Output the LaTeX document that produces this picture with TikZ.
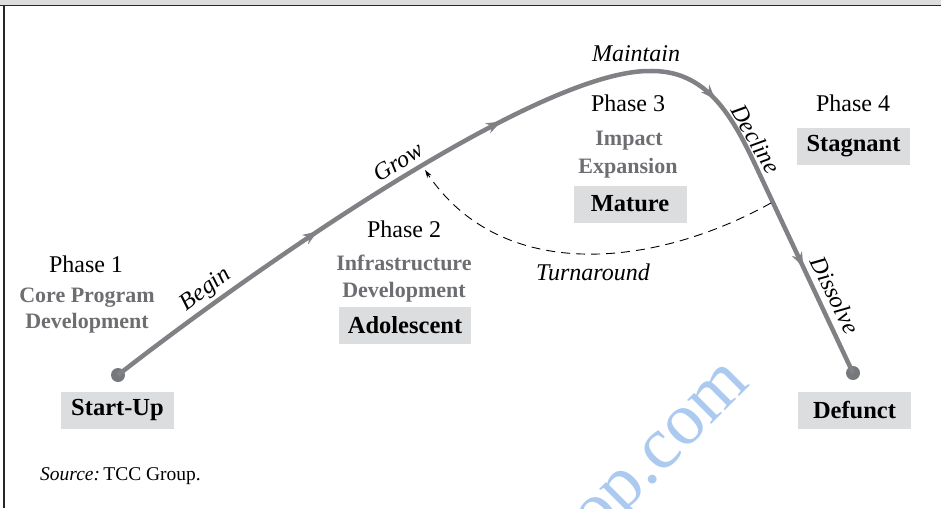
\documentclass[tikz,border=0pt]{standalone}
\usepackage{fontspec}
\setmainfont{Liberation Serif}
\usetikzlibrary{arrows.meta,decorations.markings}
\definecolor{linegray}{RGB}{128,129,132}
\definecolor{dotgray}{RGB}{119,120,123}
\definecolor{boxgray}{RGB}{220,221,222}
\definecolor{subgray}{RGB}{109,110,113}
\definecolor{bandgray}{RGB}{221,221,221}
\definecolor{wmblue}{RGB}{172,202,240}
\tikzset{
  phase/.style={anchor=base, font=\fontsize{24}{26}\selectfont, text=black, inner sep=0pt},
  sub/.style={anchor=base, font=\fontsize{22}{24}\selectfont\bfseries, text=subgray, inner sep=0pt},
  stage/.style={fill=boxgray, font=\fontsize{24.5}{26}\selectfont\bfseries, minimum height=37pt, minimum width=113pt, inner xsep=9pt, inner ysep=0pt},
  lab/.style={font=\fontsize{24}{26}\selectfont\itshape, inner sep=0pt},
  dot/.style={circle, fill=dotgray, minimum size=14pt, inner sep=0pt},
  mainline/.style={draw=linegray, line width=4.5pt},
  midtip/.tip={Stealth[length=15pt, width=11pt, inset=5pt, fill=linegray, color=linegray]},
  turn/.style={draw=black, line width=0.9pt, dash pattern=on 9pt off 6pt},
  wm/.style={font=\fontsize{74}{74}\selectfont, text=wmblue, rotate=45}
}
\begin{document}
\begin{tikzpicture}[x=1pt,y=-1pt]
\useasboundingbox (0,0) rectangle (941,508);
% watermark
\begin{scope}
\clip (0,0) rectangle (941,508);
\node[wm] (wmark) at (667,456) {op.com};
\end{scope}
% frame
\fill[bandgray] (0,0) rectangle (941,5);
\draw[line width=1.6pt, black!85] (0,5.5) -- (941,5.5);
\draw[line width=1.6pt, black!85] (4,5.5) -- (4,508);

% dots and path
\node[dot] (s) at (118,375) {};
\node[dot] (e) at (853,373) {};
\coordinate (peak) at (652,71);
\coordinate (bend) at (760,175);
\draw[mainline, postaction={decorate}, decoration={markings,
   mark=at position 246pt with {\arrow{midtip}},
   mark=at position 460pt with {\arrow{midtip}},
   mark=at position 692pt with {\arrow{midtip}},
   mark=at position 882pt with {\arrow{midtip}}}]
  (s.center) .. controls (250,272) and (540,68) .. (peak)
  to[out=0, in=115] (bend) -- (e.center);

% turnaround
\coordinate (tr) at (771,203);
\coordinate (ta) at (425,170);
\draw[turn, -{Stealth[length=8pt, width=5pt]}] (tr) to[out=209, in=-56] (ta);

% phase texts
\node[phase] (p1) at (86,272) {Phase 1};
\node[sub] (p1a) at (87,302) {Core Program};
\node[sub] (p1b) at (87,328) {Development};
\node[stage] (su) at (117.5,410) {Start-Up};

\node[phase] (p2) at (404,237) {Phase 2};
\node[sub] (p2a) at (404,270) {Infrastructure};
\node[sub] (p2b) at (404,297) {Development};
\node[stage] (ad) at (405,325.5) {Adolescent};

\node[phase] (p3) at (628,112) {Phase 3};
\node[sub] (p3a) at (629,145) {Impact};
\node[sub] (p3b) at (628,173) {Expansion};
\node[stage] (ma) at (630,204) {Mature};

\node[phase] (p4) at (853,112) {Phase 4};
\node[stage] (st) at (853.5,146) {Stagnant};
\node[stage] (de) at (854.5,410.5) {Defunct};

% path labels
\node[lab, rotate=37] (lb) at (206,290) {Begin};
\node[lab, rotate=32] (lg) at (398,162) {Grow};
\node[lab, anchor=base] (lm) at (636,62) {Maintain};
\node[lab, rotate=-60] (ld) at (756,139) {Decline};
\node[lab, rotate=-64] (ls) at (835,295) {Dissolve};
\node[lab, anchor=base] (lt) at (593,280) {Turnaround};

% source
\node[anchor=base west, inner sep=0pt, font=\fontsize{19.5}{22}\selectfont] (src) at (40,480) {\textit{Source:}\,TCC Group.};
\end{tikzpicture}
\end{document}
